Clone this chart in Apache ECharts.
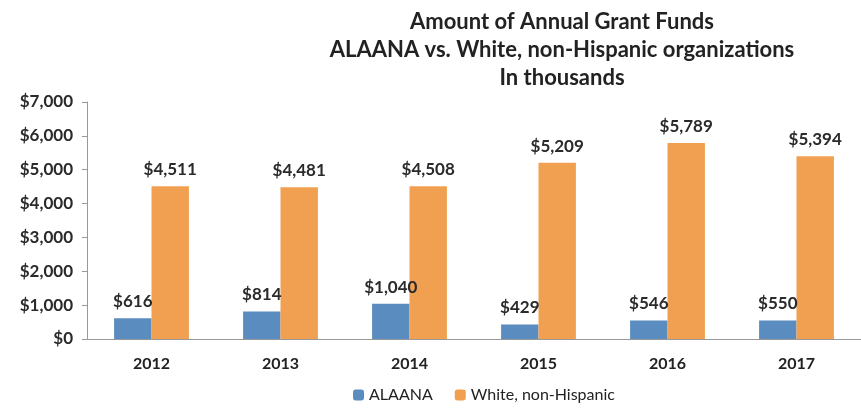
<!DOCTYPE html>
<html><head><meta charset="utf-8">
<script src="https://cdn.jsdelivr.net/npm/echarts@6/dist/echarts.min.js"></script>
<style>html,body{margin:0;padding:0;background:#fff}#c{width:861px;height:409px}</style>
</head><body><div id="c"></div>
<script>
const categories = ['2012','2013','2014','2015','2016','2017'];
const alaana = [616, 814, 1040, 429, 546, 550];
const white = [4511, 4481, 4508, 5209, 5789, 5394];
const seriesNames = ['ALAANA', 'White, non-Hispanic'];
const titleLines = ['Amount of Annual Grant Funds', 'ALAANA vs. White, non-Hispanic organizations', 'In thousands'];

const FONT = 'Lato';
const fmt = v => '$' + v.toLocaleString('en-US');
const chart = echarts.init(document.getElementById('c'));
const labelStyle = {show: true, position: 'top', distance: 8, formatter: p => fmt(p.value), fontFamily: FONT, fontSize: 17, fontWeight: 'bold', color: '#2a2a2a'};
chart.setOption({
  animation: false,
  title: {text: titleLines.join('\n'), left: 557, top: 3, textAlign: 'center',
    textStyle: {fontFamily: FONT, fontSize: 22, fontWeight: 'bold', color: '#222', lineHeight: 28}},
  legend: {bottom: 1, left: 348, itemWidth: 11, itemHeight: 11, itemGap: 22,
    textStyle: {fontFamily: FONT, fontSize: 16, color: '#222'}, data: seriesNames},
  grid: {left: 87, top: 102, width: 780, bottom: 70},
  xAxis: {type: 'category', data: categories,
    axisLine: {lineStyle: {color: '#999'}}, axisTick: {lineStyle: {color: '#999'}, length: 5},
    axisLabel: {fontFamily: FONT, fontSize: 16, fontWeight: 'bold', color: '#222', margin: 17}},
  yAxis: {type: 'value', min: 0, max: 7000, interval: 1000,
    axisLine: {show: true, lineStyle: {color: '#999'}}, axisTick: {show: true, lineStyle: {color: '#999'}, length: 5},
    splitLine: {show: false},
    axisLabel: {fontFamily: FONT, fontSize: 17, fontWeight: 'bold', color: '#2a2a2a', margin: 14, formatter: v => fmt(v)}},
  series: [
    {name: seriesNames[0], type: 'bar', data: alaana, itemStyle: {color: '#5B8CC0'}, barGap: '0%', barCategoryGap: '42%', label: labelStyle},
    {name: seriesNames[1], type: 'bar', data: white, itemStyle: {color: '#F0A050'}, barGap: '0%', barCategoryGap: '42%', label: labelStyle}
  ]
});
</script></body></html>
